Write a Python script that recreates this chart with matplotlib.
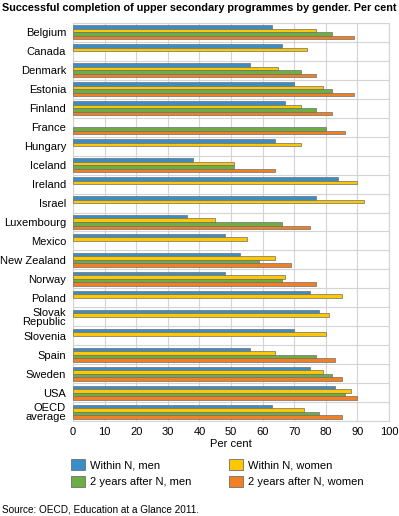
import numpy as np
import matplotlib
matplotlib.use("Agg")
import matplotlib.pyplot as plt
from matplotlib.patches import Patch

plt.rcParams['font.family'] = ['Liberation Sans', 'DejaVu Sans']

countries = ["Belgium", "Canada", "Denmark", "Estonia", "Finland", "France", "Hungary",
             "Iceland", "Ireland", "Israel", "Luxembourg", "Mexico", "New Zealand", "Norway",
             "Poland", "Slovak\nRepublic", "Slovenia", "Spain", "Sweden", "USA", "OECD\naverage"]
nan = np.nan
within_men = [63, 66, 56, 70, 67, nan, 64, 38, 84, 77, 36, 48, 53, 48, 75, 78, 70, 56, 75, 83, 63]
within_women = [77, 74, 65, 79, 72, nan, 72, 51, 90, 92, 45, 55, 64, 67, 85, 81, 80, 64, 79, 88, 73]
after_men = [82, nan, 72, 82, 77, 80, nan, 51, nan, nan, 66, nan, 59, 66, nan, nan, nan, 77, 82, 86, 78]
after_women = [89, nan, 77, 89, 82, 86, nan, 64, nan, nan, 75, nan, 69, 77, nan, nan, nan, 83, 85, 90, 85]

series = [within_men, within_women, after_men, after_women]
labels = ["Within N, men", "Within N, women", "2 years after N, men", "2 years after N, women"]
colors = ["#3a8ec8", "#fec700", "#6aae44", "#f27f22"]

W, H = 399, 516
fig = plt.figure(figsize=(W / 100, H / 100), dpi=100)
ax = fig.add_axes([73 / W, 1 - 421 / H, (389 - 73) / W, (421 - 23) / H])

y = np.arange(len(countries))
h = 0.185
for k, (vals, c) in enumerate(zip(series, colors)):
    ax.barh(y + (k - 1.5) * h, vals, height=h, color=c, edgecolor="#6f6f6f",
            linewidth=0.5, zorder=3)

ax.set_xlim(0, 100)
ax.set_ylim(len(countries) - 0.5, -0.5)
ax.set_xticks(np.arange(0, 101, 10))
ax.set_yticks(y)
ax.set_yticklabels(countries, fontsize=8, linespacing=0.95)
ax.tick_params(axis='x', labelsize=8, length=0, pad=4)
ax.tick_params(axis='y', length=0, pad=5)
for lab in ax.get_yticklabels():
    lab.set_horizontalalignment('right')
ax.set_yticks(np.arange(len(countries) + 1) - 0.5, minor=True)
ax.grid(True, axis='x', which='major', color="#d4d4d4", linewidth=0.8, zorder=0)
ax.grid(True, axis='y', which='minor', color="#d4d4d4", linewidth=0.8, zorder=0)
ax.tick_params(axis='y', which='minor', length=0)
for s in ax.spines.values():
    s.set_color("#d4d4d4")
    s.set_linewidth(0.8)
ax.set_xlabel("Per cent", fontsize=8, labelpad=2)

fig.text(2 / W, 1 - 8 / H, "Successful completion of upper secondary programmes by gender. Per cent",
         fontsize=7.8, fontweight='bold', ha='left', va='center')

handles = [Patch(facecolor=c, edgecolor="#6f6f6f", linewidth=0.6) for c in colors]
order = [0, 2, 1, 3]
fig.legend([handles[i] for i in order], [labels[i] for i in order], ncol=2,
           loc='upper left', bbox_to_anchor=(71 / W, 1 - 459 / H), frameon=False,
           fontsize=8, handlelength=1.3, handleheight=1.1, handletextpad=0.4,
           columnspacing=3.4, labelspacing=0.55, borderaxespad=0, borderpad=0)

fig.text(2 / W, 1 - 509 / H, "Source: OECD, Education at a Glance 2011.", fontsize=7.2,
         ha='left', va='center')

fig.savefig("out.png", dpi=100)
